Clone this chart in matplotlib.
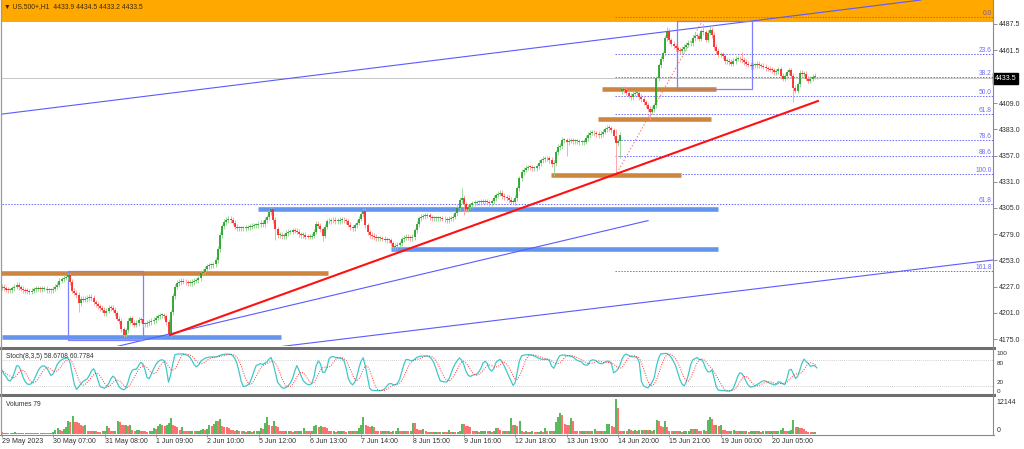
import numpy as np
import pandas as pd
import matplotlib
matplotlib.use('Agg')
import matplotlib.pyplot as plt
from matplotlib.patches import Rectangle
from matplotlib.lines import Line2D

plt.rcParams['font.family'] = ['Liberation Sans', 'DejaVu Sans']

# ---------------- data ----------------
symbol_title = '\u25bc US.500+,H1  4433.9 4434.5 4433.2 4433.5'

closes = [
    4226.9, 4225.6, 4224.1, 4223.6, 4223.6, 4225.6, 4227.1, 4228.6, 4226.6, 4225.1,
    4223.6, 4223.1, 4222.6, 4222.1, 4223.1, 4224.6, 4225.1, 4225.1, 4224.6, 4225.1,
    4225.1, 4223.6, 4223.6, 4223.6, 4225.1, 4227.1, 4229.1, 4232.6, 4234.5, 4236.0,
    4236.5, 4238.5, 4231.6, 4223.1, 4221.1, 4218.7, 4210.7, 4214.7, 4214.2, 4214.7,
    4215.7, 4216.7, 4215.7, 4211.7, 4209.7, 4207.7, 4205.8, 4204.3, 4200.8, 4203.3,
    4206.0, 4205.8, 4204.3, 4200.8, 4195.3, 4192.9, 4184.9, 4179.5, 4183.9, 4192.9,
    4195.8, 4191.4, 4189.4, 4190.9, 4193.9, 4194.4, 4189.9, 4189.9, 4190.9, 4191.9,
    4192.9, 4193.9, 4196.3, 4197.8, 4198.8, 4198.8, 4197.8, 4191.9, 4180.0, 4201.8,
    4217.7, 4226.9, 4230.6, 4231.6, 4233.0, 4231.9, 4231.1, 4230.6, 4230.6, 4231.6,
    4232.6, 4233.5, 4235.5, 4240.5, 4241.8, 4244.5, 4247.0, 4248.4, 4248.4, 4249.4,
    4253.4, 4264.3, 4278.2, 4287.1, 4291.1, 4293.1, 4294.1, 4293.1, 4290.6, 4286.4,
    4285.1, 4285.1, 4285.1, 4285.1, 4285.4, 4286.1, 4286.4, 4287.6, 4288.1, 4288.1,
    4289.1, 4290.1, 4289.1, 4293.1, 4296.0, 4301.0, 4303.5, 4293.1, 4284.1, 4278.2,
    4278.2, 4277.2, 4277.2, 4280.2, 4281.2, 4281.6, 4283.1, 4282.6, 4281.2, 4278.7,
    4278.2, 4278.2, 4276.7, 4276.5, 4276.5, 4277.7, 4281.2, 4289.1, 4287.6, 4284.1,
    4277.7, 4286.4, 4291.6, 4292.1, 4292.6, 4293.1, 4291.8, 4292.1, 4293.1, 4293.1,
    4292.6, 4291.6, 4288.6, 4286.1, 4285.1, 4288.1, 4290.6, 4294.1, 4299.0, 4302.0,
    4288.1, 4280.7, 4278.2, 4277.2, 4276.2, 4275.2, 4275.2, 4275.2, 4274.7, 4273.7,
    4273.2, 4273.2, 4270.2, 4266.3, 4267.3, 4268.3, 4270.2, 4274.2, 4275.7, 4276.2,
    4275.7, 4275.2, 4276.2, 4283.1, 4289.1, 4295.0, 4296.5, 4297.0, 4297.5, 4298.0,
    4296.0, 4295.0, 4295.0, 4295.0, 4295.0, 4295.0, 4294.1, 4293.6, 4293.1, 4294.1,
    4295.0, 4296.5, 4300.0, 4305.0, 4312.9, 4314.9, 4308.9, 4304.0, 4306.0, 4307.9,
    4309.9, 4310.4, 4310.9, 4310.9, 4311.4, 4311.9, 4311.4, 4310.9, 4309.9, 4311.9,
    4314.9, 4317.4, 4319.3, 4320.3, 4316.9, 4315.4, 4314.9, 4312.9, 4311.4, 4310.9,
    4314.9, 4324.8, 4334.7, 4340.7, 4342.7, 4345.1, 4345.6, 4345.3, 4344.6, 4344.6,
    4346.6, 4349.6, 4352.1, 4353.6, 4354.1, 4354.1, 4352.6, 4348.6, 4349.6, 4360.5,
    4365.5, 4366.5, 4372.4, 4372.4, 4370.4, 4371.9, 4371.9, 4371.4, 4371.4, 4371.4,
    4370.4, 4370.4, 4370.9, 4374.4, 4377.4, 4379.4, 4379.4, 4378.9, 4378.4, 4377.4,
    4378.4, 4380.8, 4383.3, 4384.8, 4384.3, 4382.3, 4376.4, 4369.4, 4371.4, 4377.4,
    4423.3, 4421.7, 4419.5, 4416.1, 4414.6, 4418.3, 4419.0, 4419.0, 4415.1, 4413.1,
    4410.1, 4407.1, 4403.2, 4400.7, 4403.2, 4406.8, 4433.9, 4446.8, 4452.8, 4458.7,
    4473.6, 4481.0, 4471.3, 4467.7, 4465.4, 4463.2, 4462.2, 4460.7, 4462.7, 4464.7,
    4466.7, 4468.9, 4468.2, 4473.6, 4475.6, 4475.8, 4472.9, 4480.5, 4479.5, 4472.1,
    4478.6, 4482.0, 4476.6, 4464.7, 4460.7, 4457.2, 4457.7, 4455.7, 4450.8, 4450.8,
    4449.8, 4448.3, 4450.8, 4452.8, 4453.1, 4452.3, 4451.8, 4449.8, 4448.1, 4447.3,
    4445.8, 4446.8, 4446.8, 4447.8, 4446.5, 4446.3, 4445.3, 4443.8, 4443.1, 4442.2,
    4441.6, 4439.9, 4440.4, 4442.4, 4435.9, 4433.4, 4435.9, 4439.4, 4441.6, 4436.4,
    4424.0, 4421.5, 4427.9, 4438.9, 4437.9, 4438.2, 4433.0, 4431.0, 4433.0, 4435.4,
    4435.9, 4433.5,
]
first_open = 4226.0
open_overrides = {290: 4421.0, 381: 4433.9}
high_overrides = {31: 4241.0, 126: 4305.5, 147: 4292.0, 169: 4304.5, 215: 4324.5,
                  262: 4375.0, 287: 4383.6, 311: 4484.5, 328: 4487.0, 331: 4486.0,
                  346: 4460.0, 381: 4434.5}
low_overrides = {36: 4201.5, 57: 4177.0, 78: 4178.5, 128: 4273.0, 150: 4272.5,
                 216: 4298.0, 258: 4336.5, 264: 4357.0, 287: 4339.7, 289: 4355.0,
                 303: 4392.0, 370: 4410.0, 381: 4433.2}
typical_wick = 2.5  # points of shadow beyond the body on ordinary bars

volumes = (
    [600, 400, 500, 350, 300, 450, 700, 500, 400, 300, 350, 500, 400, 300, 250, 400, 350,
     300, 450, 500, 400, 350, 300, 400, 800, 1500]
    + [2000, 1500, 1200, 1800]
    + [2500, 4400, 4200, 6100, 4300, 4000, 3800, 3000, 2800, 3000]
    + [1200, 1000, 900, 1100, 1000, 800, 700, 900, 1000]
    + [2900, 2000, 1000, 900, 1200, 4400, 4000, 3200, 3000, 3100, 2800, 3000]
    + [1500, 1200, 1300, 1400, 1200, 1000, 900, 800, 900, 1000]
    + [2000, 1800, 2800, 3500, 3200, 2700, 3000, 3800, 5500, 3200, 2800, 2500]
    + [1500, 2500, 1200, 1000, 900, 1000, 1100, 900, 1000, 1200]
    + [1300, 1700, 1400, 1800, 3100, 2800, 3400, 4500, 4500, 5300, 2800, 2500, 2300, 2000]
    + [1400, 1300, 1200, 1300, 1100, 900, 1000, 800, 900, 1000, 800, 900, 1000, 1100]
    + [2000, 1800, 3800, 5900, 3000, 2800, 4500, 2800, 2500]
    + [1200, 1000, 900, 1000, 1100, 900, 800, 1000, 900, 1000, 1100]
    + [2000, 1200, 1000, 900, 1000]
    + [2800, 3000, 2600, 2800, 2600, 2500, 2200]
    + [1100, 900, 1000, 800, 900, 1000, 1100, 900, 800, 1000, 900, 1100, 1000, 1200]
    + [2000, 3000, 5900, 3000, 2800, 2600, 2900, 2500]
    + [1200, 1000, 900, 1000, 1100, 900, 1000, 800, 900, 1000]
    + [2000, 1000, 900, 1100, 1000, 900, 1200]
    + [3800, 3800, 1800, 1500, 1300, 1800, 1000]
    + [700, 800, 600, 700, 800, 600, 700, 800, 700, 600]
    + [1400, 700, 800, 600, 700, 900]
    + [3500, 3400, 2800, 2700, 2500]
    + [1000, 900, 1000, 800, 900, 1000, 1100, 900, 1000, 800, 900]
    + [2000, 2000, 1500, 1000, 1100, 1000, 1200]
    + [5500, 3000, 3200, 2800, 4400]
    + [1000, 800, 900, 700, 800, 900, 800, 700, 800, 900, 800]
    + [2000, 1000, 1100, 1000, 1200]
    + [4000, 5800, 7300, 6500, 3500, 3200, 3000, 5500, 4400]
    + [1200, 1000, 900, 1000, 1100, 900, 1000, 900, 1000, 1700, 1000, 900, 1100, 1000, 1200]
    + [3400, 3500, 2800, 2600]
    + [12144, 9000]
    + [1000, 900, 1100, 1000, 1600, 1300, 1200, 1300, 1100, 1300, 1400, 1300, 1400, 1300,
       1400, 1200, 1400]
    + [4800, 4600, 2800, 2600, 4400, 2500]
    + [1000, 900, 1100, 1000, 900, 1000, 800, 900, 1000, 1100]
    + [1700, 1600, 1800, 1700]
    + [1200, 1100, 1300, 1200]
    + [5000, 5900, 5200, 3000, 3200, 2800, 3000]
    + [1500, 1400]
    + [1000, 900, 1100, 1500, 1000, 900, 1000, 1100, 900, 1000, 800, 900, 1000, 1100, 900,
       1000, 800, 900, 1000]
    + [900, 1000, 1100, 900, 1000, 1200, 1500]
    + [2000, 1200, 1000, 1100, 1300]
    + [4900, 2400, 2600, 2200, 2000, 1600, 1200]
    + [800, 700, 600, 700, 79]
)

time_labels = ['29 May 2023', '30 May 07:00', '31 May 08:00', '1 Jun 09:00', '2 Jun 10:00',
               '5 Jun 12:00', '6 Jun 13:00', '7 Jun 14:00', '8 Jun 15:00', '9 Jun 16:00',
               '12 Jun 18:00', '13 Jun 19:00', '14 Jun 20:00', '15 Jun 21:00',
               '19 Jun 00:00', '20 Jun 05:00']
time_label_bars = [0, 24, 48, 72, 96, 120, 144, 168, 192, 216, 240, 264, 288, 312, 336, 360]

price_ticks = [4487.5, 4461.5, 4409.0, 4383.0, 4357.0, 4331.0, 4305.0, 4279.0,
               4253.0, 4227.0, 4201.0, 4175.0]
last_price = 4433.5

fib_levels = [0.0, 23.6, 38.2, 50.0, 61.8, 78.6, 88.6, 100.0, 161.8]
fib_0_price = 4494.4
fib_100_price = 4338.7
fib_start_bar = 286.6
fib_diag_bars = [287.6, 328.2]
fib_diag_prices = [4339.7, 4493.4]
extra_level_label = '61.8'
extra_level_price = 4308.9

top_zone_price = 4489.5
blue_zones = [(4177.0, 0.2, 130.6), (4304.0, 119.8, 334.8), (4264.3, 182.0, 334.8)]
orange_zones = [(4240.5, -1.0, 152.5), (4337.7, 256.7, 317.5),
                (4393.3, 278.7, 331.5), (4423.0, 280.6, 333.8)]
boxes = [(31.0, 66.1, 4174.0, 4242.5), (315.6, 350.7, 4423.0, 4490.5)]
red_trend = [(78.7, 4179.0), (381.5, 4411.1)]
blue_ray = [(-0.75, 4397.9), (429.6, 4511.3)]
blue_seg = [(50.2, 4165.8), (302.1, 4292.5)]
blue_line3 = [(124.9, 4166.1), (463.3, 4253.4)]

stoch_text = 'Stoch(8,3,5) 58.6708 60.7784'
vol_text = 'Volumes 79'
stoch_k, stoch_slow, stoch_d = 8, 3, 5

# ---------------- derived ----------------
n = min(len(closes), len(volumes))
c = np.array(closes[:n])
o = np.r_[first_open, c[:-1]]
for k, v in open_overrides.items():
    if k < n:
        o[k] = v
h = np.maximum(o, c) + typical_wick
l = np.minimum(o, c) - typical_wick
for k, v in high_overrides.items():
    if k < n:
        h[k] = v
for k, v in low_overrides.items():
    if k < n:
        l[k] = v
vol = np.array(volumes[:n], dtype=float)
idx = np.arange(n)

hh = pd.Series(h).rolling(stoch_k, min_periods=1).max()
ll = pd.Series(l).rolling(stoch_k, min_periods=1).min()
num = (pd.Series(c) - ll).rolling(stoch_slow, min_periods=1).sum()
den = (hh - ll).rolling(stoch_slow, min_periods=1).sum()
K = (100 * num / den.replace(0, np.nan)).fillna(50)
D = K.rolling(stoch_d, min_periods=1).mean()

# ---------------- figure ----------------
W, H = 1024, 449
fig = plt.figure(figsize=(W / 100, H / 100), dpi=100)
fig.patch.set_facecolor('white')


def fx(px):
    return px / W


def fy(py):
    return 1 - py / H


def axes_px(x0, y0, x1, y1):
    return fig.add_axes([fx(x0), fy(y1), fx(x1) - fx(x0), fy(y0) - fy(y1)])


XR = 993
XLIM = (0.19, 463.3)
ax = axes_px(2, 0, XR, 346)
ax_s = axes_px(2, 350, XR, 394)
ax_v = axes_px(2, 396, XR, 434)
for a in (ax, ax_s, ax_v):
    for sp in a.spines.values():
        sp.set_visible(False)
    a.set_xlim(*XLIM)
    a.set_facecolor('white')

ax.set_ylim(4168.1, 4511.3)
ax_s.set_ylim(0, 104.8)
ax_v.set_ylim(0, 13185)

BLUE_TXT = '#6b6bff'

# top orange zone
ax.axhspan(top_zone_price, 4600, color='#ffa800', zorder=0, lw=0)

# current price line
ax.axhline(last_price, color='#c8c8c8', lw=0.7, zorder=1)

# extra full-width dotted level
ax.axhline(extra_level_price, color=BLUE_TXT, lw=0.7, ls=(0, (1.5, 1.5)), zorder=1)
ax.text(XLIM[1] - 0.6, extra_level_price, extra_level_label, ha='right', va='bottom',
        fontsize=4.8, color=BLUE_TXT, zorder=6)

# fib levels
for lv in fib_levels:
    p = fib_0_price - (fib_0_price - fib_100_price) * lv / 100.0
    ax.hlines(p, fib_start_bar, XLIM[1], colors=BLUE_TXT, lw=0.7,
              linestyles=[(0, (1.5, 1.5))], zorder=1)
    ax.text(XLIM[1] - 0.6, p, f'{lv:.1f}', ha='right', va='bottom', fontsize=4.8,
            color=('#7a5a9a' if lv == 0.0 else BLUE_TXT), zorder=6)
ax.plot(fib_diag_bars, fib_diag_prices, color='#ff7070', lw=0.7, ls=(0, (1.5, 2)), zorder=2)

# zones
for p, b0, b1 in blue_zones:
    ax.hlines(p, b0, b1, colors='#6495ed', lw=3.3, zorder=2)
for p, b0, b1 in orange_zones:
    ax.hlines(p, b0, b1, colors='#cd853f', lw=3.3, zorder=2)

# boxes
for b0, b1, p0, p1 in boxes:
    ax.add_patch(Rectangle((b0, p0), b1 - b0, p1 - p0, fill=False, ec='#7f7fff', lw=0.9, zorder=3))

# trend lines
ax.axline(blue_ray[0], blue_ray[1], color='#5a5aff', lw=0.8, zorder=2)
ax.plot(*zip(*blue_seg), color='#5a5aff', lw=0.8, zorder=2)
ax.plot(*zip(*blue_line3), color='#5a5aff', lw=0.8, zorder=2)
ax.plot(*zip(*red_trend), color='#ff1010', lw=1.5, zorder=4)

# candles
up = c >= o
col = np.where(up, '#22a022', '#ff2020')
wick_col = np.where(up, '#8fd08f', '#ff9a9a')
ax.vlines(idx, l, h, colors=wick_col, lw=0.6, zorder=3)
blo = np.minimum(o, c)
bhi = np.maximum(o, c)
thin = (bhi - blo) < 0.9
bhi = np.where(thin, blo + 0.9, bhi)
ax.vlines(idx, blo, bhi, colors=col, lw=1.25, zorder=3)

# right price axis
ax.yaxis.tick_right()
ax.set_yticks(price_ticks)
ax.set_yticklabels([f'{p:.1f}' for p in price_ticks])
ax.tick_params(axis='y', length=3, width=0.6, color='#808080', labelsize=5, pad=1.5,
               labelcolor='#303030')
ax.set_xticks([])
ax.text(1.002, last_price, f'{last_price:.1f}', transform=ax.get_yaxis_transform(),
        ha='left', va='center', fontsize=5, color='white', zorder=10, clip_on=False,
        bbox=dict(boxstyle='square,pad=0.25', fc='black', ec='black'))

fig.text(fx(4), fy(6.5), symbol_title, fontsize=4.9, color='#3b2a0a', va='center', ha='left')

# stochastic
ax_s.axhline(80, color='#c0c0c0', lw=0.6, ls=(0, (1, 1.5)))
ax_s.axhline(20, color='#c0c0c0', lw=0.6, ls=(0, (1, 1.5)))
ax_s.plot(idx, K.values, color='#40c8c8', lw=0.9, zorder=3)
ax_s.plot(idx, D.values, color='#ff3030', lw=0.7, ls=(0, (1, 1.5)), zorder=4)
ax_s.set_xticks([])
ax_s.set_yticks([])
ax_s.text(0.004, 0.93, stoch_text, transform=ax_s.transAxes, ha='left', va='top',
          fontsize=4.8, color='#303030')
tr_s = ax_s.get_yaxis_transform()
for v, va, dy in ((100, 'top', 3.5), (80, 'top', -1.0), (20, 'bottom', 1.0), (0, 'bottom', 0.0)):
    ax_s.text(1.004, v + dy, str(v), transform=tr_s, ha='left', va=va, fontsize=4.6,
              color='#303030', clip_on=False)

# volumes
vcol = ['#28a428' if (i > 0 and vol[i] > vol[i - 1]) else '#ff4545' for i in range(n)]
ax_v.vlines(idx, 0, vol, colors=vcol, lw=1.1)
ax_v.set_yticks([])
ax_v.text(0.004, 0.88, vol_text, transform=ax_v.transAxes, ha='left', va='top',
          fontsize=4.8, color='#303030')
tr_v = ax_v.get_yaxis_transform()
ax_v.text(1.004, vol.max(), f'{int(vol.max())}', transform=tr_v, ha='left', va='top',
          fontsize=5, color='#303030', clip_on=False)
ax_v.text(1.004, 0, '0', transform=tr_v, ha='left', va='bottom', fontsize=5,
          color='#303030', clip_on=False)
ax_v.set_xticks(time_label_bars)
ax_v.set_xticklabels(time_labels, ha='left')
ax_v.tick_params(axis='x', length=2, width=0.6, color='#808080', labelsize=5, pad=1,
                 labelcolor='#303030')

# frame / separators
def hline_px(y, x0, x1, color, lw):
    fig.add_artist(Line2D([fx(x0), fx(x1)], [fy(y), fy(y)], color=color, lw=lw,
                          transform=fig.transFigure))


def vline_px(x, y0, y1, color, lw):
    fig.add_artist(Line2D([fx(x), fx(x)], [fy(y0), fy(y1)], color=color, lw=lw,
                          transform=fig.transFigure))


hline_px(348, 0, XR + 1, '#6e6e6e', 2.2)
hline_px(395, 0, XR + 1, '#6e6e6e', 2.2)
hline_px(434.5, 0, XR + 1, '#8a8a8a', 0.8)
vline_px(1.2, 0, 435, '#9a9a9a', 0.9)
vline_px(XR + 0.3, 0, 435, '#8a8a8a', 0.8)

fig.savefig('out.png', dpi=100, facecolor='white')
